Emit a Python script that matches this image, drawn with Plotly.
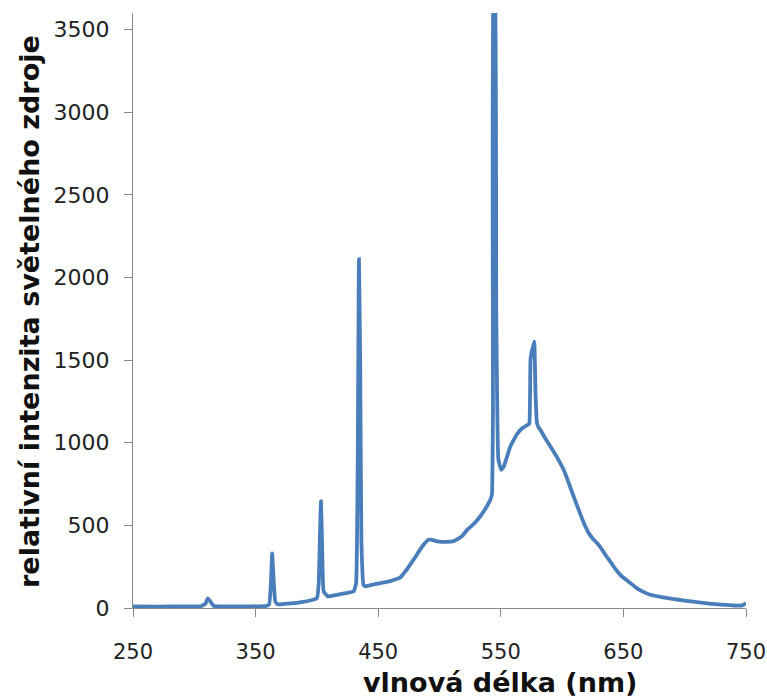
import plotly.graph_objects as go

wavelength = [250, 270, 290, 305, 309, 311, 313, 316, 330, 345, 358, 361, 362.5, 363.5, 364.5, 366, 368,
              375, 385, 397, 400, 401.5, 402.5, 403.3, 404.2, 405.5, 409, 415, 420, 425, 430, 432, 433.3,
              434.3, 435.3, 436.3, 438, 439.5, 445, 450, 455, 460, 465, 468, 472, 476, 480, 484, 488, 491,
              494, 498, 502, 506, 511.5, 515, 519, 522.5, 526, 530, 533, 536, 539, 541.5, 542.8, 543.6,
              544.2, 545.0, 546.3, 548, 550.3, 552, 554, 557.7, 560, 563, 566, 569, 572, 573.3, 574.2, 575,
              576.3, 577.3, 578.3, 579.5, 581, 582.3, 586, 590.5, 596, 601.3, 605, 609.4, 614, 619, 622,
              625, 628.5, 632, 635, 638.5, 642, 645, 648, 652, 655.6, 660, 665, 672, 680, 690, 700, 710,
              720, 730, 740, 747, 750]
intensity = [10, 8, 10, 10, 25, 58, 40, 12, 10, 10, 12, 20, 150, 330, 200, 40, 22,
             26, 33, 50, 58, 150, 450, 645, 400, 100, 70, 78, 85, 92, 100, 150, 900,
             2110, 1500, 400, 140, 131, 140, 148, 155, 163, 175, 185, 220, 262, 305, 352, 392, 413,
             412, 403, 400, 400, 405, 418, 440, 473, 495, 525, 552, 584, 620, 655, 690, 1200,
             3900, 3900, 1800, 900, 836, 850, 890, 977, 1010, 1050, 1078, 1095, 1108, 1118, 1500, 1542,
             1580, 1612, 1300, 1120, 1090, 1078, 1030, 977, 910, 836, 765, 675, 585, 493, 450,
             420, 393, 360, 325, 290, 251, 222, 196, 172, 151, 125, 102, 80, 68, 55, 45, 35,
             27, 20, 15, 16, 28]

x_ticks = [250, 350, 450, 550, 650, 750]
y_ticks = [0, 500, 1000, 1500, 2000, 2500, 3000, 3500]
x_title = "vlnová délka (nm)"
y_title = "relativní intenzita světelného zdroje"

tick_font = "DejaVu Sans, sans-serif"
title_font = "DejaVu Sans, sans-serif"
axis_color = "#8a8a8a"

L, R, T, B = 133, 21, 13, 90
W, H = 767, 698
pw, ph = W - L - R, H - T - B

fig = go.Figure(go.Scatter(
    x=wavelength, y=intensity, mode="lines",
    line=dict(color="#4a7ebb", width=3.8, shape="spline", smoothing=0.3),
    showlegend=False, cliponaxis=True,
))

fig.update_layout(
    width=W, height=H,
    margin=dict(l=L, r=R, t=T, b=B, autoexpand=False),
    paper_bgcolor="white", plot_bgcolor="white",
    font=dict(family=tick_font, color="#222222"),
    xaxis=dict(range=[250, 750], tickvals=x_ticks, ticktext=[str(v) for v in x_ticks],
               automargin=False,
               showgrid=False, zeroline=False, showline=True, linecolor=axis_color, linewidth=1.3,
               ticks="outside", ticklen=8, tickcolor=axis_color, tickwidth=1.3,
               tickfont=dict(size=21, color="#222222"), ticklabelstandoff=17),
    yaxis=dict(range=[0, 3600], tickvals=y_ticks, ticktext=[str(v) for v in y_ticks],
               automargin=False,
               showgrid=False, zeroline=False, showline=True, linecolor=axis_color, linewidth=1.3,
               ticks="outside", ticklen=8, tickcolor=axis_color, tickwidth=1.3,
               tickfont=dict(size=22, color="#222222"), ticklabelstandoff=10),
    annotations=[
        dict(text=f"<b>{x_title}</b>", xref="paper", yref="paper", x=(500 - L) / pw, y=-(682 - (H - B)) / ph,
             xanchor="center", yanchor="middle", showarrow=False,
             font=dict(family=title_font, size=27, color="#111111")),
        dict(text=f"<b>{y_title}</b>", xref="paper", yref="paper", x=-(L - 29) / pw, y=((H - B) - 312) / ph,
             xanchor="center", yanchor="middle", textangle=-90, showarrow=False,
             font=dict(family=title_font, size=27, color="#111111")),
    ],
)

fig.write_html("out.html")
